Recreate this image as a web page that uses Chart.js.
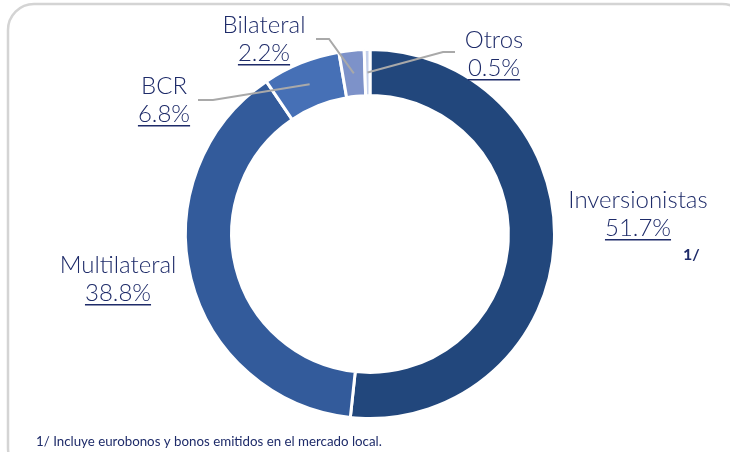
<!DOCTYPE html>
<html>
<head>
<meta charset="utf-8">
<script src="https://cdn.jsdelivr.net/npm/chart.js@4"></script>
<style>
  html, body { margin: 0; padding: 0; background: #fff; }
  #wrap { position: relative; width: 730px; height: 452px; }
</style>
</head>
<body>
<div id="wrap"><canvas id="donut" width="730" height="452"></canvas></div>
<script>
// Data
const categories = ['Inversionistas', 'Multilateral', 'BCR', 'Bilateral', 'Otros'];
const shares = [51.7, 38.8, 6.8, 2.2, 0.5];
const sliceColors = ['#22477c', '#335b9b', '#4670b6', '#7d92c9', '#c5d0ea'];
const footnote = '1/ Incluye eurobonos y bonos emitidos en el mercado local.';

const TEXT = '#1e2b69';
const FONT = 'Lato, "Open Sans", sans-serif';

// label placement (text centre x, name baseline y) + optional leader elbow
const labelLayout = [
  { x: 638, y: 208, note: true },
  { x: 118, y: 273 },
  { x: 164, y: 94, elbow: [[198, 100], [213, 100]] },
  { x: 264, y: 33, elbow: [[316, 39], [329, 39]] },
  { x: 494, y: 48, elbow: [[455, 52], [443, 52]] }
];

const labelPlugin = {
  id: 'labels',
  afterDraw(chart) {
    const ctx = chart.ctx;
    const arcs = chart.getDatasetMeta(0).data;
    ctx.save();

    // outer frame
    ctx.strokeStyle = '#d4d4d4';
    ctx.lineWidth = 2.5;
    ctx.beginPath();
    ctx.roundRect(8, 4, 740, 470, 26);
    ctx.stroke();

    arcs.forEach((arc, i) => {
      const lay = labelLayout[i];
      if (lay.elbow) {
        const mid = (arc.startAngle + arc.endAngle) / 2;
        const r = (arc.innerRadius + arc.outerRadius) / 2;
        ctx.strokeStyle = '#a9a9a9';
        ctx.lineWidth = 2;
        ctx.beginPath();
        ctx.moveTo(lay.elbow[0][0], lay.elbow[0][1]);
        ctx.lineTo(lay.elbow[1][0], lay.elbow[1][1]);
        ctx.lineTo(arc.x + Math.cos(mid) * r, arc.y + Math.sin(mid) * r);
        ctx.stroke();
      }
      ctx.fillStyle = TEXT;
      ctx.textAlign = 'center';
      ctx.textBaseline = 'alphabetic';
      ctx.font = '300 24px ' + FONT;
      ctx.fillText(categories[i], lay.x, lay.y);
      const pct = shares[i].toFixed(1) + '%';
      const py = lay.y + 28;
      ctx.fillText(pct, lay.x, py);
      const w = ctx.measureText(pct).width;
      ctx.fillRect(lay.x - w / 2, py + 3, w, 1.5);
      if (lay.note) {
        ctx.font = 'bold 16px ' + FONT;
        ctx.textAlign = 'left';
        ctx.fillText('1/', 683, 260);
      }
    });

    ctx.font = '13.3px ' + FONT;
    ctx.textAlign = 'left';
    ctx.fillStyle = TEXT;
    ctx.fillText(footnote, 36, 446);
    ctx.restore();
  }
};

new Chart(document.getElementById('donut'), {
  type: 'doughnut',
  data: {
    labels: categories,
    datasets: [{
      data: shares,
      backgroundColor: sliceColors,
      borderColor: '#ffffff',
      borderWidth: 3
    }]
  },
  options: {
    responsive: false,
    animation: false,
    cutout: '75%',
    layout: { padding: { left: 184, right: 174, top: 48, bottom: 32 } },
    plugins: { legend: { display: false }, tooltip: { enabled: false } }
  },
  plugins: [labelPlugin]
});
</script>
</body>
</html>
